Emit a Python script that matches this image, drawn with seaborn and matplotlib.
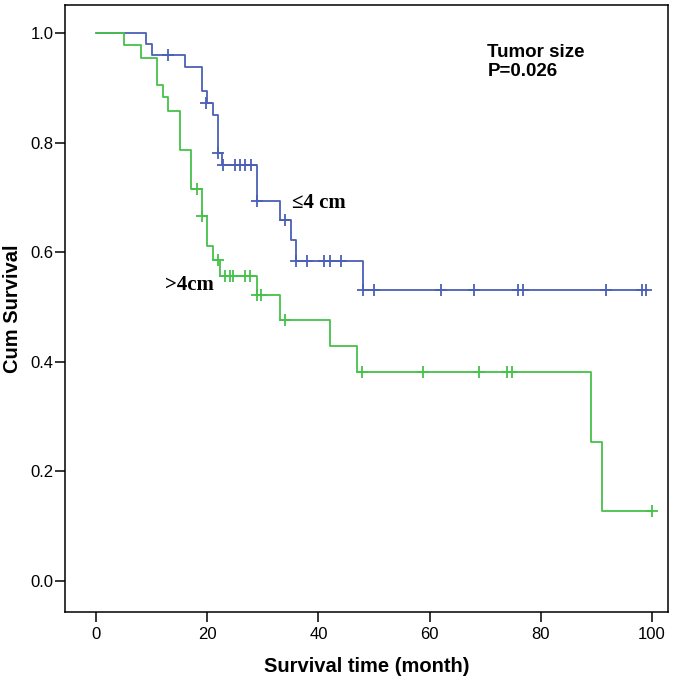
import numpy as np
import pandas as pd
import matplotlib
matplotlib.use('Agg')
import matplotlib.pyplot as plt
import seaborn as sns

# Kaplan-Meier curves (steps-post)
small_time = [0, 9, 10, 16, 19, 20, 21, 22, 22.7, 29, 33, 35, 36, 48, 99]
small_surv = [1.0, 0.979, 0.959, 0.937, 0.894, 0.872, 0.850, 0.780, 0.759,
              0.693, 0.659, 0.622, 0.584, 0.531, 0.531]
small_cens_time = [13, 19.8, 22, 22.9, 25, 25.9, 26.8, 27.8, 29, 33.9, 36, 37.9,
                   41, 42, 44, 48, 50, 62, 68, 76, 76.8, 91.8, 98.2, 99]
small_cens_surv = [0.959, 0.872, 0.780, 0.759, 0.759, 0.759, 0.759, 0.759, 0.693,
                   0.659, 0.584, 0.584, 0.584, 0.584, 0.584, 0.531, 0.531, 0.531,
                   0.531, 0.531, 0.531, 0.531, 0.531, 0.531]

large_time = [0, 5, 8, 11, 12, 13, 15, 17, 19, 20, 21, 22.3, 29, 33, 42, 47, 89, 91, 100]
large_surv = [1.0, 0.978, 0.955, 0.905, 0.883, 0.858, 0.786, 0.715, 0.665, 0.611,
              0.586, 0.557, 0.522, 0.476, 0.429, 0.381, 0.253, 0.127, 0.127]
large_cens_time = [18.1, 19, 22, 23.2, 24, 24.7, 26.8, 27.7, 29, 29.7, 33.9,
                   47.8, 58.9, 68.9, 73.9, 74.8, 100]
large_cens_surv = [0.715, 0.665, 0.586, 0.557, 0.557, 0.557, 0.557, 0.557, 0.522,
                   0.522, 0.476, 0.381, 0.381, 0.381, 0.381, 0.381, 0.127]

x_ticks = [0, 20, 40, 60, 80, 100]
y_ticks = [0.0, 0.2, 0.4, 0.6, 0.8, 1.0]

blue = '#4a60b6'
green = '#46c24a'

sns.set_style('white')
plt.rcParams['font.family'] = ['Liberation Sans', 'DejaVu Sans']
plt.rcParams['text.color'] = 'black'
plt.rcParams['axes.labelcolor'] = 'black'

fig = plt.figure(figsize=(6.85, 6.80), dpi=100)
ax = fig.add_axes([0.095, 0.1, 0.88, 0.8926])

small = pd.DataFrame({'t': small_time, 's': small_surv})
large = pd.DataFrame({'t': large_time, 's': large_surv})

sns.lineplot(data=small, x='t', y='s', ax=ax, color=blue, lw=1.3,
             drawstyle='steps-post', estimator=None, sort=False)
sns.lineplot(data=large, x='t', y='s', ax=ax, color=green, lw=1.3,
             drawstyle='steps-post', estimator=None, sort=False)

# censored cases
sns.scatterplot(x=small_cens_time, y=small_cens_surv, ax=ax, marker='+',
                color=blue, s=75, linewidth=1.3, zorder=3)
sns.scatterplot(x=large_cens_time, y=large_cens_surv, ax=ax, marker='+',
                color=green, s=75, linewidth=1.3, zorder=3)

ax.set_xlim(-5.6, 102.9)
ax.set_ylim(-0.057, 1.051)
ax.set_xticks(x_ticks)
ax.set_xticklabels([str(v) for v in x_ticks])
ax.set_yticks(y_ticks)
ax.set_yticklabels([f'{v:.1f}' for v in y_ticks])
ax.tick_params(axis='both', direction='out', length=7, width=1.1, colors='black',
               labelsize=12, bottom=True, left=True)
ax.tick_params(axis='x', pad=3.5)
ax.tick_params(axis='y', pad=1.5)

for sp in ax.spines.values():
    sp.set_visible(True)
    sp.set_color('black')
    sp.set_linewidth(1.1)

ax.set_xlabel('Survival time (month)', fontsize=14.5, fontweight='bold', labelpad=11)
ax.set_ylabel('Cum Survival', fontsize=14.5, fontweight='bold', labelpad=6)

ax.text(70.4, 0.956, 'Tumor size', fontsize=13.5, fontweight='bold', va='baseline')
ax.text(70.4, 0.921, 'P=0.026', fontsize=13.5, fontweight='bold', va='baseline')
serif = ['Liberation Serif', 'DejaVu Serif']
ax.text(35.2, 0.680, '\u22644 cm', fontsize=15, fontweight='bold',
        family=serif, va='baseline')
ax.text(12.4, 0.531, '>4cm', fontsize=15, fontweight='bold',
        family=serif, va='baseline')

fig.savefig('out.png', dpi=100)
